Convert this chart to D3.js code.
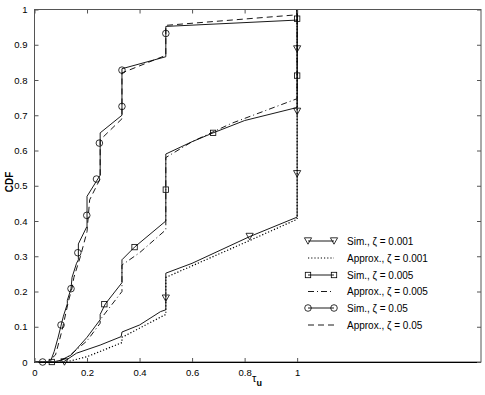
<!DOCTYPE html>
<html><head><meta charset="utf-8">
<script src="https://cdn.jsdelivr.net/npm/d3@7"></script>
<style>body{margin:0;background:#fff}svg{display:block}text{font-family:"Liberation Sans",Arial,sans-serif}</style>
</head><body><svg id="c" width="485" height="395"></svg>
<script>
const xTicks=[0,0.2,0.4,0.6,0.8,1];
const yTicks=[0,0.1,0.2,0.3,0.4,0.5,0.6,0.7,0.8,0.9,1];
const seriesNames=["Sim., ζ = 0.001","Approx., ζ = 0.001","Sim., ζ = 0.005","Approx., ζ = 0.005","Sim., ζ = 0.05","Approx., ζ = 0.05"];
const sim001=[[0,0],[0.11,0],[0.16,0.025],[0.25,0.048],[0.33,0.072],[0.333,0.085],[0.4,0.105],[0.48,0.143],[0.5,0.148],[0.5,0.252],[0.6,0.28],[0.82,0.356],[1,0.411],[1,1]];
const approx001=[[0,0],[0.12,0],[0.2,0.015],[0.333,0.055],[0.333,0.07],[0.5,0.135],[0.5,0.24],[0.82,0.345],[1,0.405],[1,1]];
const sim005=[[0,0],[0.07,0],[0.1,0.005],[0.14,0.02],[0.2,0.07],[0.25,0.12],[0.25,0.135],[0.27,0.165],[0.333,0.225],[0.333,0.29],[0.381,0.326],[0.5,0.4],[0.5,0.59],[0.6,0.625],[0.68,0.65],[0.8,0.685],[1,0.722],[1,1]];
const approx005=[[0,0],[0.08,0],[0.12,0.01],[0.2,0.06],[0.25,0.11],[0.25,0.12],[0.333,0.2],[0.333,0.275],[0.4,0.31],[0.5,0.375],[0.5,0.58],[0.6,0.625],[0.75,0.677],[1,0.747],[1,1]];
const sim05=[[0,0],[0.06,0],[0.075,0.03],[0.09,0.07],[0.1,0.1],[0.11,0.13],[0.125,0.165],[0.125,0.175],[0.139,0.208],[0.143,0.24],[0.16,0.28],[0.167,0.29],[0.167,0.335],[0.2,0.385],[0.2,0.47],[0.25,0.53],[0.25,0.65],[0.333,0.7],[0.333,0.832],[0.5,0.866],[0.5,0.952],[1,0.97],[1,1]];
const approx05=[[0,0],[0.05,0],[0.08,0.02],[0.105,0.09],[0.13,0.175],[0.143,0.21],[0.15,0.24],[0.175,0.3],[0.2,0.37],[0.21,0.46],[0.25,0.52],[0.25,0.63],[0.333,0.69],[0.333,0.82],[0.5,0.87],[0.5,0.955],[1,0.985],[1,1]];
const mark001=[[0.114,0],[0.5,0.181],[0.819,0.356],[1,0.534],[1,0.711],[1,0.888]];
const mark005=[[0.066,0],[0.266,0.164],[0.381,0.326],[0.5,0.489],[0.68,0.65],[1,0.8125],[1,0.974]];
const mark05=[[0.031,0],[0.101,0.105],[0.139,0.208],[0.165,0.31],[0.199,0.416],[0.236,0.519],[0.247,0.621],[0.333,0.725],[0.333,0.828],[0.5,0.932]];

const svg=d3.select("#c");
const x=d3.scaleLinear().domain([0,1.7]).range([34.5,481]);
const y=d3.scaleLinear().domain([0,1]).range([362,9.5]);
const line=d3.line().x(d=>x(d[0])).y(d=>y(d[1]));

const styles=[
 {data:sim001,dash:null,marks:mark001,shape:"tri",w:0.9},
 {data:approx001,dash:"1.2,2",marks:null,w:1.2},
 {data:sim005,dash:null,marks:mark005,shape:"sq",w:0.9},
 {data:approx005,dash:"6,3,1,3",marks:null,w:0.9},
 {data:sim05,dash:null,marks:mark05,shape:"circ",w:0.9},
 {data:approx05,dash:"6,4",marks:null,w:0.9}
];

function drawMarker(g,shape,cx,cy){
  if(shape==="circ") g.append("circle").attr("cx",cx).attr("cy",cy).attr("r",3.3).attr("fill","none").attr("stroke","#000").attr("stroke-width",0.8);
  else if(shape==="sq") g.append("rect").attr("x",cx-2.7).attr("y",cy-2.7).attr("width",5.4).attr("height",5.4).attr("fill","none").attr("stroke","#000").attr("stroke-width",0.8);
  else g.append("path").attr("d",`M${cx-3.6},${cy-3.2}L${cx+3.6},${cy-3.2}L${cx},${cy+3.2}Z`).attr("fill","none").attr("stroke","#000").attr("stroke-width",0.8);
}

const plot=svg.append("g");
styles.forEach(s=>{
  plot.append("path").attr("d",line(s.data)).attr("fill","none").attr("stroke","#000").attr("stroke-width",s.w)
   .attr("stroke-dasharray",s.dash);
  if(s.marks) s.marks.forEach(m=>drawMarker(plot,s.shape,x(m[0]),y(m[1])));
});

// frame
svg.append("rect").attr("x",34.5).attr("y",9.5).attr("width",481-34.5).attr("height",362-9.5).attr("fill","none").attr("stroke","#555").attr("stroke-width",1);
svg.append("line").attr("x1",34.5).attr("x2",481).attr("y1",362.5).attr("y2",362.5).attr("stroke","#000");

const fmt=d3.format("~g");
const gb=svg.append("g").attr("transform","translate(0,362)").call(d3.axisBottom(x).tickValues(xTicks).tickSize(-4).tickPadding(7).tickFormat(fmt));
const gt=svg.append("g").attr("transform","translate(0,9.5)").call(d3.axisTop(x).tickValues(xTicks).tickSize(-4).tickFormat(""));
const gl=svg.append("g").attr("transform","translate(34.5,0)").call(d3.axisLeft(y).tickValues(yTicks).tickSize(-4).tickPadding(7).tickFormat(fmt));
const gr=svg.append("g").attr("transform","translate(481,0)").call(d3.axisRight(y).tickValues(yTicks).tickSize(-4).tickFormat(""));
[gb,gt,gl,gr].forEach(g=>{g.select(".domain").remove();g.selectAll(".tick line").attr("stroke","#555");g.selectAll("text").attr("font-size",9.5).attr("fill","#000").attr("font-family","Liberation Sans, Arial, sans-serif");});

// axis labels
svg.append("text").attr("transform","translate(13,182) rotate(-90)").attr("text-anchor","middle").attr("font-size",10).attr("font-weight","bold").text("CDF");
const xl=svg.append("text").attr("x",257).attr("y",382).attr("text-anchor","middle").attr("font-size",11);
xl.append("tspan").text("τ");
xl.append("tspan").attr("dy",4).attr("font-size",9).attr("font-weight","bold").text("u");

// legend
const leg=svg.append("g");
const rows=[241,258,275,291.5,308,325];
styles.forEach((s,i)=>{
  const yy=rows[i];
  leg.append("line").attr("x1",308).attr("x2",334).attr("y1",yy).attr("y2",yy).attr("stroke","#000").attr("stroke-width",s.w).attr("stroke-dasharray",s.dash);
  if(s.marks){drawMarker(leg,s.shape,308,yy);drawMarker(leg,s.shape,334,yy);}
  leg.append("text").attr("x",347).attr("y",yy+3.5).attr("font-size",10).text(seriesNames[i]);
});
</script></body></html>
